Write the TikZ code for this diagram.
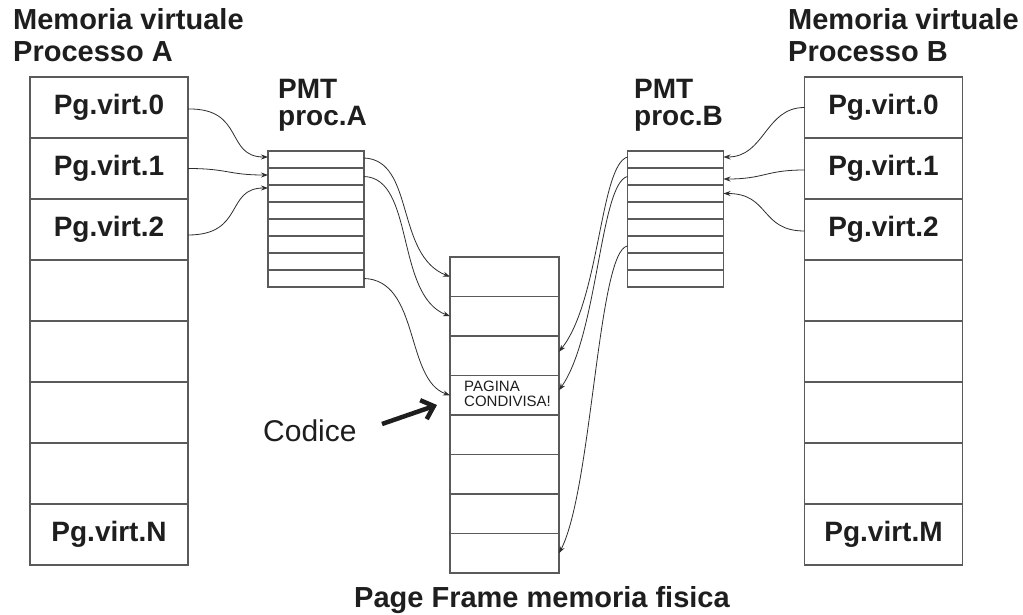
\documentclass[tikz,border=0pt]{standalone}
\usepackage{fontspec}
\setmainfont{Liberation Sans}
\usetikzlibrary{arrows.meta}
\definecolor{boxc}{HTML}{5A5A5A}
\definecolor{linec}{HTML}{2E2E2E}
\definecolor{txtc}{HTML}{1E1E1E}
\tikzset{
  cellbase/.style={draw=boxc, line width=1.3pt, inner sep=0pt, outer sep=0pt, text=txtc},
  vcell/.style={cellbase, minimum width=158pt, minimum height=61pt, font=\fontsize{28}{32}\selectfont\bfseries},
  pcell/.style={cellbase, minimum width=96pt, minimum height=17pt},
  fcell/.style={cellbase, minimum width=109pt, minimum height=39.5pt},
  title/.style={anchor=base west, inner sep=0pt, text=txtc, font=\fontsize{29}{32}\selectfont\bfseries},
  pmtlab/.style={anchor=base west, inner sep=0pt, text=txtc, font=\fontsize{28}{30}\selectfont\bfseries},
  conn/.style={draw=linec, line width=0.8pt, -{Stealth[length=7pt,width=5pt]}},
  bigarrow/.style={draw=txtc, line width=4.5pt, -{Straight Barb[length=11pt,width=20pt]}}
}
\begin{document}
\begin{tikzpicture}[x=1pt,y=-1pt]
\useasboundingbox[fill=white] (0,0) rectangle (1023,615);

% titles
\node[title] (tA1) at (13,30) {Memoria virtuale};
\node[title] (tA2) at (13,62) {Processo A};
\node[title] (tB1) at (788,30) {Memoria virtuale};
\node[title] (tB2) at (788,62) {Processo B};
\node[pmtlab] (pA1) at (278,99) {PMT};
\node[pmtlab] (pA2) at (278,126) {proc.A};
\node[pmtlab] (pB1) at (634,99) {PMT};
\node[pmtlab] (pB2) at (634,126) {proc.B};

% virtual memory A
\foreach \i/\t in {0/Pg.virt.0,1/Pg.virt.1,2/Pg.virt.2,3/,4/,5/,6/,7/Pg.virt.N}
  \node[vcell] (a\i) at (109,{107.5+61*\i}) {\t};
% virtual memory B
\foreach \i/\t in {0/Pg.virt.0,1/Pg.virt.1,2/Pg.virt.2,3/,4/,5/,6/,7/Pg.virt.M}
  \node[vcell] (b\i) at (883.5,{107.5+61*\i}) {\t};
% PMT A and B
\foreach \i in {1,...,8}{
  \node[pcell] (pa\i) at (316,{142.5+17*\i}) {};
  \node[pcell] (pb\i) at (675.5,{142.5+17*\i}) {};
}
% physical frames
\foreach \i in {1,...,8}
  \node[fcell] (f\i) at (504.5,{237.25+39.5*\i}) {};

\node[anchor=base west, inner sep=0pt, text=txtc, font=\fontsize{15}{15}\selectfont] (pg1) at (464,391) {PAGINA};
\node[anchor=base west, inner sep=0pt, text=txtc, font=\fontsize{15}{15}\selectfont] (pg2) at (464,406) {CONDIVISA!};

\node[anchor=base, inner sep=0pt, text=txtc, font=\fontsize{29}{32}\selectfont\bfseries] (pf) at (542,607) {Page Frame memoria fisica};

\node[anchor=base west, inner sep=0pt, text=txtc, font=\fontsize{30}{32}\selectfont] (cod) at (263,441) {Codice};
\coordinate (ctail) at (382,424);
\coordinate (ctip) at (437,405);
\draw[bigarrow] (ctail) -- (ctip);

% virtual A -> PMT A
\draw[conn] ([yshift=-1.5pt]a0.east) .. controls (245,108) and (225,157) .. ([yshift=2.5pt]pa1.west);
\draw[conn] (a1.east) .. controls (228,168.5) and (228,175) .. ([yshift=1.5pt]pa2.west);
\draw[conn] ([yshift=-5.5pt]a2.east) .. controls (245,235) and (225,188) .. ([yshift=5.5pt]pa3.west);

% PMT A -> frames
\draw[conn] ([yshift=1.5pt]pa1.east) .. controls (415,160) and (395,255) .. (f1.west);
\draw[conn] (pa2.east) .. controls (415,178) and (395,295) .. (f2.west);
\draw[conn] (pa8.east) .. controls (420,280) and (405,380) .. (f4.west);

% virtual B -> PMT B
\draw[conn] (b0.west) .. controls (765,107.5) and (765,157) .. ([yshift=2.5pt]pb1.east);
\draw[conn] ([yshift=-1.5pt]b1.west) .. controls (765,170) and (765,179) .. ([yshift=-2.5pt]pb2.east);
\draw[conn] ([yshift=-1.5pt]b2.west) .. controls (760,231) and (770,193.5) .. (pb3.east);

% PMT B -> frames
\draw[conn] ([yshift=2.5pt]pb1.west) .. controls (600,165) and (600,300) .. ([yshift=4pt]f3.east);
\draw[conn] (pb2.west) .. controls (600,183) and (598,335) .. ([yshift=5pt]f4.east);
\draw[conn] ([yshift=-1.5pt]pb6.west) .. controls (598,250) and (592,490) .. (f8.east);
\end{tikzpicture}
\end{document}
